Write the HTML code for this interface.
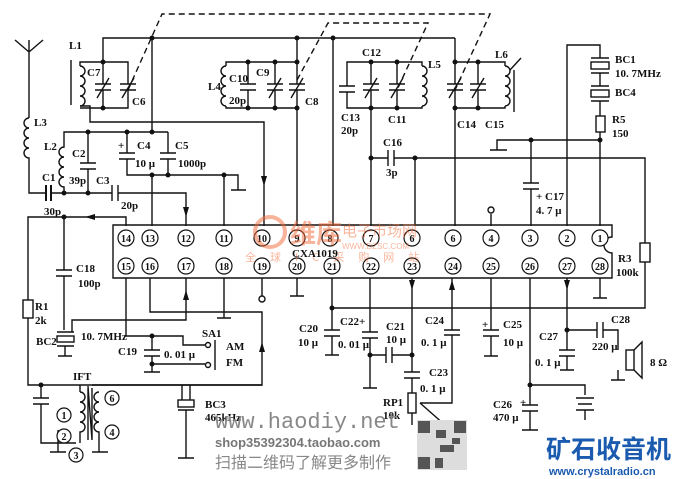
<!DOCTYPE html><html><head><meta charset="utf-8"><style>
html,body{margin:0;padding:0;background:#fff;width:680px;height:479px;overflow:hidden}
svg text{font-family:"Liberation Serif","Noto Serif CJK SC",serif}
</style></head><body>
<svg width="680" height="479" viewBox="0 0 680 479" xmlns="http://www.w3.org/2000/svg">
<g stroke="#111" stroke-width="1.4" fill="none">
<path d="M15,40 L29,52 L43,40 M29,40 V118"/>
<path d="M29,118 a5,5 0 0 0 0,10 a5,5 0 0 0 0,10 a5,5 0 0 0 0,10 a5,5 0 0 0 0,10 V193 H46 M52,193 H64"/>
<path d="M46,185 V201 M51,185 V201" stroke-width="2"/>
<path d="M64,193 V187 a5,5 0 0 1 0,-10 a5,5 0 0 1 0,-10 a5,5 0 0 1 0,-10 a5,5 0 0 1 0,-10 V132 H168"/>
<path d="M88,132 V163 M88,169 V193 M80,163 H96 M80,169 H96"/>
<path d="M64,193 H112 M118,193 H186 V226 M112,185 V201 M118,185 V201"/>
<path d="M127,132 V153 M127,159 V175 H225 M168,132 V153 M168,159 V175 M119,153 H135 M119,159 H135 M160,153 H176 M160,159 H176"/>
<path d="M225,175 H238 V190 M231,190 H246"/>
<path d="M152,132 V38 M152,175 V226 M224,175 V226"/>
<path d="M71,60 V105"/>
<path d="M80,66 a5,5 0 0 1 0,10 a5,5 0 0 1 0,10 a5,5 0 0 1 0,10 a5,5 0 0 1 0,10"/>
<path d="M80,66 V62 H128 V84 M128,90 V108 H80 M103,62 V84 M103,90 V108 M103,62 V38 H455"/>
<path d="M95,84 H111 M95,90 H111 M120,84 H136 M120,90 H136 M97,98 L109,78 M122,98 L134,78"/>
<path d="M80,106 H90 V122 H264 V226"/>
<path d="M226,66 a5,5 0 0 0 0,10 a5,5 0 0 0 0,10 a5,5 0 0 0 0,10 a5,5 0 0 0 0,10"/>
<path d="M226,66 V62 H297 M226,106 V108 H297 M248,62 V84 M248,90 V108 M275,62 V84 M275,90 V108 M297,38 V84 M297,90 V226"/>
<path d="M240,84 H256 M240,90 H256 M267,84 H283 M267,90 H283 M289,84 H305 M289,90 H305 M269,98 L281,78 M291,98 L303,78"/>
<path d="M333,38 V226"/>
<path d="M422,66 a5,5 0 0 1 0,10 a5,5 0 0 1 0,10 a5,5 0 0 1 0,10 a5,5 0 0 1 0,10"/>
<path d="M422,66 V62 H347 V86 M347,92 V108 H422 V106 M371,62 V84 M371,90 V226 M397,62 V84 M397,90 V108"/>
<path d="M339,86 H355 M339,92 H355 M363,84 H379 M363,90 H379 M389,84 H405 M389,90 H405 M365,98 L377,78 M391,98 L403,78"/>
<path d="M371,158 H388 M394,158 H645 V243 M645,262 V308 H332 M388,150 V166 M394,150 V166 M415,158 V226"/>
<rect x="640" y="243" width="10" height="19"/>
<path d="M505,66 a5,5 0 0 1 0,10 a5,5 0 0 1 0,10 a5,5 0 0 1 0,10 a5,5 0 0 1 0,10"/>
<path d="M505,66 V62 H455 M505,106 V108 H455 M455,38 V84 M455,90 V226 M478,62 V84 M478,90 V108 M514,70 V112 M510,70 L521,58"/>
<path d="M447,84 H463 M447,90 H463 M470,84 H486 M470,90 H486 M449,98 L461,78 M472,98 L484,78"/>
<path d="M491,214 V226"/><circle cx="491" cy="210" r="3"/>
<path d="M490,150 H507 M497,150 V140 H600 M531,140 V183 M531,189 V226 M523,183 H539 M523,189 H539"/>
<path d="M567,226 V45 H600 V58 M600,73 V86 M600,101 V116 M600,132 V226"/>
<rect x="591" y="62" width="18" height="7"/><path d="M591,58 H609 M591,73 H609 M591,86 H609 M591,101 H609"/>
<rect x="591" y="90" width="18" height="7"/>
<rect x="596" y="116" width="9" height="16"/>
<path d="M113,225 H612 V237 a8,8 0 0 0 0,16 V278 H113 Z"/>
<path d="M126,226 V217 H28 V300 M28,318 V385 H262 V312 H150 V278 M64,217 V270 M64,276 V330 M56,270 H72 M56,276 H72"/>
<rect x="23" y="300" width="10" height="18"/>
<rect x="57" y="336" width="17" height="6"/><path d="M57,332 H74 M57,346 H74 M65,346 V356 M58,356 H72 M72,332 V320 H186 V278"/>
<path d="M126,278 V336 H183 V345 H205 M152,336 V350 M152,356 V364 H205 M144,350 H160 M144,356 H160 M152,364 V372 M144,372 H160"/>
<circle cx="208" cy="345" r="2.5"/><circle cx="208" cy="365" r="2.5"/><path d="M215,340 V370"/>
<path d="M224,278 V318 M217,318 H231 M262,278 V296"/><circle cx="262" cy="299" r="3"/>
<path d="M41,385 V398 M41,404 V443 H76 M33,398 H49 M33,404 H49"/>
<path d="M80,392 a5,5 0 0 1 0,10 a5,5 0 0 1 0,10 a5,5 0 0 1 0,10 a5,5 0 0 1 0,10 V443 M80,392 V385 M88,388 V440 M92,388 V440 L88,386"/>
<path d="M99,392 a5,5 0 0 0 0,10 a5,5 0 0 0 0,10 a5,5 0 0 0 0,10 a5,5 0 0 0 0,10 V452 M92,452 H108 M58,430 V452 M50,452 H66"/>
<path d="M92,385 H262"/>
<path d="M182,385 V400 M190,385 V400"/><rect x="178" y="400" width="16" height="7"/><path d="M178,410 H194 M186,410 V458 M178,458 H194"/>
<path d="M297,278 V296 M290,296 H304 M332,278 V330 M332,336 V355 M324,330 H340 M324,336 H340 M325,355 H339"/>
<path d="M370,278 V332 M370,338 V355 H386 M392,355 H412 M362,332 H378 M362,338 H378 M370,355 V388 M363,388 H377 M386,347 V363 M392,347 V363"/>
<path d="M412,278 V372 M412,378 V393 M404,372 H420 M404,378 H420"/>
<rect x="408" y="393" width="8" height="20"/><path d="M412,413 V425 M420,403 H452 V335 M452,330 V278 M444,330 H460 M444,335 H460 M420,403 L445,425"/>
<path d="M491,278 V330 M491,336 V356 M483,330 H499 M483,336 H499 M484,356 H498"/>
<path d="M530,278 V385 H585 V395 M530,385 V405 M530,411 V430 M522,405 H538 M522,411 H538 M522,430 H538 M576,398 H594 M578,404 H592 M576,410 H594 M585,410 V420"/>
<path d="M567,278 V330 H597 M603,330 H618 V350 M567,330 V350 M567,356 V370 M559,350 H575 M559,356 H575 M560,370 H574 M597,322 V338 M603,322 V338 M618,370 V380 M611,380 H625"/>
<rect x="626" y="350" width="8" height="20"/><path d="M634,350 L642,342 V378 L634,370"/>
<path d="M600,278 V298 M593,298 H607"/>
</g>
<g stroke="#111" stroke-width="1.4" fill="none" stroke-dasharray="6,4">
<path d="M128,90 L162,14 H490 L455,90"/>
<path d="M297,80 L328,23 H428 L397,90"/>
</g>
<g fill="#111">
<path d="M183,207 L189,207 L186,217Z M261,176 L267,176 L264,186Z M95,214 L95,220 L85,217Z M183,300 L189,300 L186,290Z M259,352 L265,352 L262,342Z M409,280 L415,280 L412,290Z M449,290 L455,290 L452,280Z M564,280 L570,280 L567,290Z"/>
<circle cx="152" cy="38" r="2.5"/><circle cx="297" cy="38" r="2.5"/><circle cx="333" cy="38" r="2.5"/><circle cx="103" cy="62" r="2.5"/><circle cx="103" cy="108" r="2.5"/>
<circle cx="248" cy="62" r="2.5"/><circle cx="275" cy="62" r="2.5"/><circle cx="297" cy="62" r="2.5"/><circle cx="248" cy="108" r="2.5"/><circle cx="275" cy="108" r="2.5"/><circle cx="297" cy="108" r="2.5"/>
<circle cx="371" cy="62" r="2.5"/><circle cx="397" cy="62" r="2.5"/><circle cx="371" cy="108" r="2.5"/><circle cx="397" cy="108" r="2.5"/>
<circle cx="455" cy="62" r="2.5"/><circle cx="478" cy="62" r="2.5"/><circle cx="455" cy="108" r="2.5"/><circle cx="478" cy="108" r="2.5"/>
<circle cx="88" cy="132" r="2.5"/><circle cx="127" cy="132" r="2.5"/><circle cx="152" cy="132" r="2.5"/><circle cx="152" cy="175" r="2.5"/><circle cx="168" cy="175" r="2.5"/><circle cx="224" cy="175" r="2.5"/>
<circle cx="64" cy="193" r="2.5"/><circle cx="88" cy="193" r="2.5"/><circle cx="64" cy="217" r="2.5"/>
<circle cx="371" cy="158" r="2.5"/><circle cx="415" cy="158" r="2.5"/><circle cx="531" cy="140" r="2.5"/><circle cx="600" cy="140" r="2.5"/>
<circle cx="152" cy="336" r="2.5"/><circle cx="152" cy="364" r="2.5"/><circle cx="41" cy="385" r="2.5"/>
<circle cx="332" cy="308" r="2.5"/><circle cx="370" cy="355" r="2.5"/><circle cx="412" cy="355" r="2.5"/><circle cx="530" cy="385" r="2.5"/><circle cx="567" cy="330" r="2.5"/>
</g>
<g fill="#fff" stroke="#111" stroke-width="1.2">
<circle cx="126" cy="238" r="8"/><circle cx="150" cy="238" r="8"/><circle cx="186" cy="238" r="8"/><circle cx="224" cy="238" r="8"/><circle cx="262" cy="238" r="8"/><circle cx="297" cy="238" r="8"/><circle cx="330" cy="238" r="8"/><circle cx="371" cy="238" r="8"/><circle cx="412" cy="238" r="8"/><circle cx="453" cy="238" r="8"/><circle cx="491" cy="238" r="8"/><circle cx="530" cy="238" r="8"/><circle cx="567" cy="238" r="8"/><circle cx="600" cy="238" r="8"/>
<circle cx="126" cy="266" r="8"/><circle cx="150" cy="266" r="8"/><circle cx="186" cy="266" r="8"/><circle cx="224" cy="266" r="8"/><circle cx="262" cy="266" r="8"/><circle cx="297" cy="266" r="8"/><circle cx="332" cy="266" r="8"/><circle cx="371" cy="266" r="8"/><circle cx="412" cy="266" r="8"/><circle cx="453" cy="266" r="8"/><circle cx="491" cy="266" r="8"/><circle cx="530" cy="266" r="8"/><circle cx="567" cy="266" r="8"/><circle cx="600" cy="266" r="8"/>
<circle cx="64" cy="415" r="7"/><circle cx="64" cy="436" r="7"/><circle cx="76" cy="455" r="7"/><circle cx="112" cy="398" r="7"/><circle cx="112" cy="432" r="7"/>
</g>
<g font-size="10" text-anchor="middle" font-weight="bold" style="fill:#111">
<text x="126" y="242">14</text><text x="150" y="242">13</text><text x="186" y="242">12</text><text x="224" y="242">11</text><text x="262" y="242">10</text><text x="297" y="242">9</text><text x="330" y="242">8</text><text x="371" y="242">7</text><text x="412" y="242">6</text><text x="453" y="242">6</text><text x="491" y="242">4</text><text x="530" y="242">3</text><text x="567" y="242">2</text><text x="600" y="242">1</text>
<text x="126" y="270">15</text><text x="150" y="270">16</text><text x="186" y="270">17</text><text x="224" y="270">18</text><text x="262" y="270">19</text><text x="297" y="270">20</text><text x="332" y="270">21</text><text x="371" y="270">22</text><text x="412" y="270">23</text><text x="453" y="270">24</text><text x="491" y="270">25</text><text x="530" y="270">26</text><text x="567" y="270">27</text><text x="600" y="270">28</text>
<text x="64" y="419">1</text><text x="64" y="440">2</text><text x="76" y="459">3</text><text x="112" y="402">6</text><text x="112" y="436">4</text>
</g>
<g opacity="0.5">
<circle cx="270" cy="232" r="15" fill="none" stroke="#f26b3a" stroke-width="4"/>
<text x="290" y="243" font-size="26" font-weight="bold" style="fill:#f26b3a;font-family:'Noto Sans CJK SC',sans-serif">维库</text>
<text x="342" y="236" font-size="15" style="fill:#f26b3a;font-family:'Noto Sans CJK SC',sans-serif">电子市场网</text>
<text x="342" y="249" font-size="8" style="fill:#f26b3a;font-family:'Liberation Sans',sans-serif">WWW.DZSC.COM</text>
<text x="245" y="261" font-size="11" letter-spacing="14" style="fill:#f26b3a;font-family:'Noto Sans CJK SC',sans-serif">全球IC采购网站</text>
</g>
<g font-size="11" font-weight="bold" style="fill:#111">
<text x="69" y="49">L1</text><text x="87" y="76">C7</text><text x="132" y="105">C6</text>
<text x="208" y="90">L4</text><text x="229" y="82">C10</text><text x="229" y="104">20p</text><text x="256" y="76">C9</text><text x="305" y="105">C8</text>
<text x="362" y="56">C12</text><text x="428" y="68">L5</text><text x="341" y="121">C13</text><text x="341" y="134">20p</text><text x="388" y="123">C11</text>
<text x="457" y="128">C14</text><text x="485" y="128">C15</text><text x="495" y="58">L6</text>
<text x="383" y="146">C16</text><text x="386" y="176">3p</text>
<text x="536" y="200">+ C17</text><text x="536" y="214">4. 7 μ</text>
<text x="615" y="63">BC1</text><text x="615" y="77">10. 7MHz</text><text x="615" y="96">BC4</text><text x="612" y="123">R5</text><text x="612" y="137">150</text>
<text x="34" y="126">L3</text><text x="44" y="150">L2</text><text x="72" y="157">C2</text><text x="69" y="184">39p</text><text x="96" y="184">C3</text><text x="121" y="209">20p</text>
<text x="42" y="181">C1</text><text x="44" y="215">30p</text>
<text x="118" y="149">+</text><text x="137" y="149">C4</text><text x="135" y="167">10 μ</text><text x="175" y="149">C5</text><text x="178" y="167">1000p</text>
<text x="76" y="272">C18</text><text x="78" y="287">100p</text><text x="35" y="310">R1</text><text x="35" y="324">2k</text>
<text x="36" y="345">BC2</text><text x="81" y="340">10. 7MHz</text>
<text x="118" y="355">C19</text><text x="164" y="358">0. 01 μ</text>
<text x="202" y="337">SA1</text><text x="226" y="350">AM</text><text x="226" y="366">FM</text>
<text x="73" y="380">IFT</text><text x="205" y="408">BC3</text><text x="205" y="421">465kHz</text>
<text x="292" y="257">CXA1019</text><text x="618" y="262">R3</text><text x="616" y="276">100k</text>
<text x="299" y="332">C20</text><text x="298" y="346">10 μ</text><text x="340" y="325">C22+</text><text x="338" y="348">0. 01 μ</text>
<text x="386" y="330">C21</text><text x="386" y="343">10 μ</text><text x="425" y="324">C24</text><text x="421" y="346">0. 1 μ</text>
<text x="429" y="376">C23</text><text x="420" y="392">0. 1 μ</text><text x="383" y="406">RP1</text><text x="383" y="419">10k</text>
<text x="482" y="328">+</text><text x="503" y="328">C25</text><text x="503" y="346">10 μ</text>
<text x="539" y="340">C27</text><text x="535" y="366">0. 1 μ</text><text x="611" y="323">C28</text><text x="592" y="350">220 μ</text><text x="650" y="366">8 Ω</text>
<text x="493" y="408">C26</text><text x="493" y="421">470 μ</text><text x="520" y="406">+</text>
</g>
<text x="215" y="428" font-size="22" style="fill:#888;font-family:'Liberation Mono',monospace">www.haodiy.net</text>
<text x="215" y="447" font-size="13" font-weight="bold" style="fill:#777;font-family:'Liberation Sans',sans-serif">shop35392304.taobao.com</text>
<text x="215" y="468" font-size="16" style="fill:#888;font-family:'Noto Sans CJK SC',sans-serif">扫描二维码了解更多制作</text>
<g fill="#555"><rect x="417" y="420" width="50" height="50" fill="#ddd"/><rect x="418" y="421" width="12" height="12"/><rect x="454" y="421" width="12" height="12"/><rect x="418" y="457" width="12" height="12"/><rect x="436" y="430" width="10" height="8"/><rect x="440" y="445" width="14" height="7"/><rect x="435" y="458" width="8" height="10"/><rect x="452" y="438" width="8" height="6"/></g>
<text x="546" y="458" font-size="25" font-weight="bold" style="fill:#1a5bb0;font-family:'Noto Sans CJK SC',sans-serif">矿石收音机</text>
<text x="549" y="475" font-size="11" font-weight="bold" style="fill:#1a5bb0;font-family:'Liberation Sans',sans-serif">www.crystalradio.cn</text>
</svg>
</body></html>
